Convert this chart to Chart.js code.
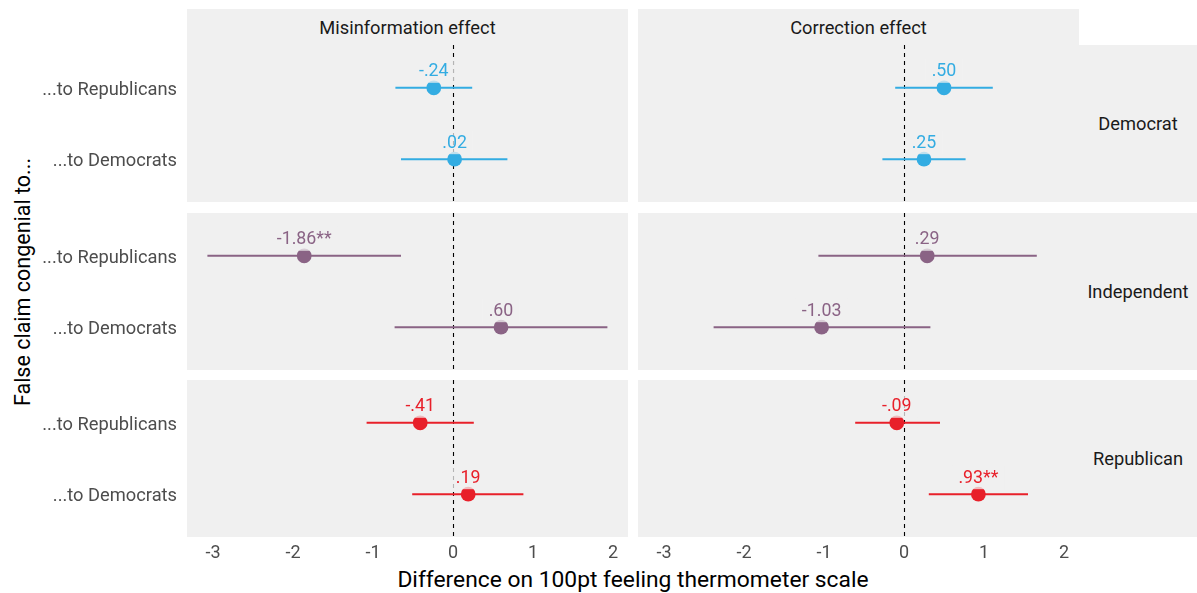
<!DOCTYPE html>
<html><head><meta charset="utf-8">
<script src="https://cdn.jsdelivr.net/npm/chart.js@4/dist/chart.umd.min.js"></script>
<style>
body{margin:0;background:#fff;width:1197px;height:593px;position:relative;overflow:hidden;font-family:Roboto, sans-serif;}
canvas{position:absolute;}
.strip{position:absolute;background:#F0F0F0;color:#1a1a1a;font-size:18.3px;display:flex;align-items:center;justify-content:center;white-space:nowrap;}
.title{position:absolute;color:#000;white-space:nowrap;transform:translate(-50%,-50%);}
</style></head><body>
<script>
// ---- data ----
const categories = ['...to Republicans', '...to Democrats'];
const effects = ['Misinformation effect', 'Correction effect'];
const groups = ['Democrat', 'Independent', 'Republican'];
const xTicks = [-3, -2, -1, 0, 1, 2];
// order: [misinfo→Rep, misinfo→Dem, correction→Rep, correction→Dem]
const democratEstimate = [-0.24, 0.02, 0.50, 0.25];
const democratLower    = [-0.72, -0.65, -0.11, -0.27];
const democratUpper    = [0.24, 0.68, 1.11, 0.77];
const democratLabel    = ['-.24', '.02', '.50', '.25'];
const independentEstimate = [-1.86, 0.60, 0.29, -1.03];
const independentLower    = [-3.07, -0.73, -1.07, -2.38];
const independentUpper    = [-0.65, 1.93, 1.66, 0.33];
const independentLabel    = ['-1.86**', '.60', '.29', '-1.03'];
const republicanEstimate = [-0.41, 0.19, -0.09, 0.93];
const republicanLower    = [-1.08, -0.51, -0.61, 0.31];
const republicanUpper    = [0.26, 0.88, 0.45, 1.55];
const republicanLabel    = ['-.41', '.19', '-.09', '.93**'];

const groupData = [
  {est: democratEstimate, lo: democratLower, hi: democratUpper, lab: democratLabel, color: '#33ACE2'},
  {est: independentEstimate, lo: independentLower, hi: independentUpper, lab: independentLabel, color: '#8A6385'},
  {est: republicanEstimate, lo: republicanLower, hi: republicanUpper, lab: republicanLabel, color: '#E8202A'}
];

// ---- layout ----
const X_MIN = -3.325, X_MAX = 2.1875;
const rowTop = [45, 213, 380];
const PANEL_H = 157;
const colLeft = [187, 638];
const PANEL_W = 441;
const Y_AXIS_W = 187;
const X_AXIS_H = 30;
const PANEL_BG = '#F0F0F0';
const FONT = 'Roboto';

function addDiv(cls, text, style){
  const d = document.createElement('div');
  d.className = cls; d.textContent = text;
  Object.assign(d.style, style);
  document.body.appendChild(d);
  return d;
}

// strips
effects.forEach((t, e) => addDiv('strip', t, {left: colLeft[e]+'px', top: '9px', width: PANEL_W+'px', height: '36px'}));
groups.forEach((t, g) => addDiv('strip', t, {left: (colLeft[1]+PANEL_W)+'px', top: rowTop[g]+'px', width: (1197-colLeft[1]-PANEL_W)+'px', height: PANEL_H+'px'}));
addDiv('title', 'False claim congenial to...', {left: '22px', top: '282px', fontSize: '21.5px', transform: 'translate(-50%,-50%) rotate(-90deg)'});
addDiv('title', 'Difference on 100pt feeling thermometer scale', {left: '633px', top: '579px', fontSize: '22.8px'});

const panelPlugin = {
  id: 'panel',
  beforeDraw(chart){
    const a = chart.chartArea, ctx = chart.ctx;
    ctx.save(); ctx.fillStyle = PANEL_BG;
    ctx.fillRect(a.left, a.top, a.right - a.left, a.bottom - a.top);
    ctx.restore();
  },
  beforeDatasetsDraw(chart){
    const a = chart.chartArea, ctx = chart.ctx;
    const x0 = Math.round(chart.scales.x.getPixelForValue(0)) + 0.5;
    ctx.save();
    ctx.strokeStyle = '#000'; ctx.lineWidth = 1.1; ctx.setLineDash([4, 4]);
    ctx.beginPath(); ctx.moveTo(x0, a.top); ctx.lineTo(x0, a.bottom); ctx.stroke();
    ctx.restore();
  },
  afterDatasetsDraw(chart){
    const info = chart.options.plugins.panel;
    const ctx = chart.ctx;
    ctx.save();
    ctx.font = '17.8px ' + FONT;
    ctx.textAlign = 'center'; ctx.textBaseline = 'middle';
    info.labels.forEach((lab, i) => {
      const x = chart.scales.x.getPixelForValue(info.values[i]);
      const y = chart.scales.y.getPixelForValue(i + 1) - 17;
      const w = ctx.measureText(lab).width;
      ctx.fillStyle = 'rgba(240,240,240,0.75)';
      ctx.fillRect(x - w/2 - 6, y - 12, w + 12, 24);
      ctx.fillStyle = info.color;
      ctx.fillText(lab, x, y + 1);
    });
    ctx.restore();
  }
};

function fixX(s){
  if (s.options.display) s.height = X_AXIS_H;
  s.paddingLeft = 0; s.paddingRight = 0; s.paddingTop = 0; s.paddingBottom = 0;
}
function fixY(s){
  if (s.options.display) s.width = Y_AXIS_W;
  s.paddingLeft = 0; s.paddingRight = 0; s.paddingTop = 0; s.paddingBottom = 0;
}

groups.forEach((gname, g) => {
  const d = groupData[g];
  effects.forEach((ename, e) => {
    const isLeft = e === 0, isBottom = g === 2;
    const canvas = document.createElement('canvas');
    const left = isLeft ? colLeft[0] - Y_AXIS_W : colLeft[1];
    const width = PANEL_W + (isLeft ? Y_AXIS_W : 0);
    const height = PANEL_H + (isBottom ? X_AXIS_H : 0);
    canvas.width = width; canvas.height = height;
    canvas.style.left = left + 'px'; canvas.style.top = rowTop[g] + 'px';
    canvas.style.width = width + 'px'; canvas.style.height = height + 'px';
    document.body.appendChild(canvas);

    const idx = [e*2, e*2 + 1];
    const datasets = [
      {
        type: 'scatter', order: 0, clip: false,
        data: idx.map((k, i) => ({x: d.est[k], y: i + 1})),
        pointRadius: 7.4, pointHoverRadius: 7.4, backgroundColor: d.color, borderWidth: 0
      }
    ];
    idx.forEach((k, i) => {
      datasets.push({
        type: 'line', order: 1, clip: false,
        data: [{x: d.lo[k], y: i + 1}, {x: d.hi[k], y: i + 1}],
        borderColor: d.color, borderWidth: 2, pointRadius: 0, fill: false, showLine: true
      });
    });

    new Chart(canvas, {
      type: 'scatter',
      data: {datasets},
      options: {
        responsive: false, animation: false, devicePixelRatio: 1,
        layout: {padding: 0, autoPadding: false},
        plugins: {
          legend: {display: false}, tooltip: {enabled: false},
          panel: {labels: idx.map(k => d.lab[k]), values: idx.map(k => d.est[k]), color: d.color}
        },
        scales: {
          x: {
            type: 'linear', min: X_MIN, max: X_MAX, display: isBottom,
            grid: {display: false, drawTicks: false}, border: {display: false},
            ticks: {padding: 6, color: '#4D4D4D', font: {family: FONT, size: 18}, callback: v => String(v)},
            afterBuildTicks: s => { s.ticks = xTicks.map(v => ({value: v})); },
            afterFit: fixX
          },
          y: {
            type: 'linear', min: 0.4, max: 2.6, reverse: true, display: isLeft,
            grid: {display: false, drawTicks: false}, border: {display: false},
            ticks: {padding: 10, labelOffset: 2.5, color: '#4D4D4D', font: {family: FONT, size: 18.3}, callback: (v, i) => categories[i]},
            afterBuildTicks: s => { s.ticks = categories.map((c, i) => ({value: i + 1})); },
            afterFit: fixY
          }
        }
      },
      plugins: [panelPlugin]
    });
  });
});
</script>
</body></html>
